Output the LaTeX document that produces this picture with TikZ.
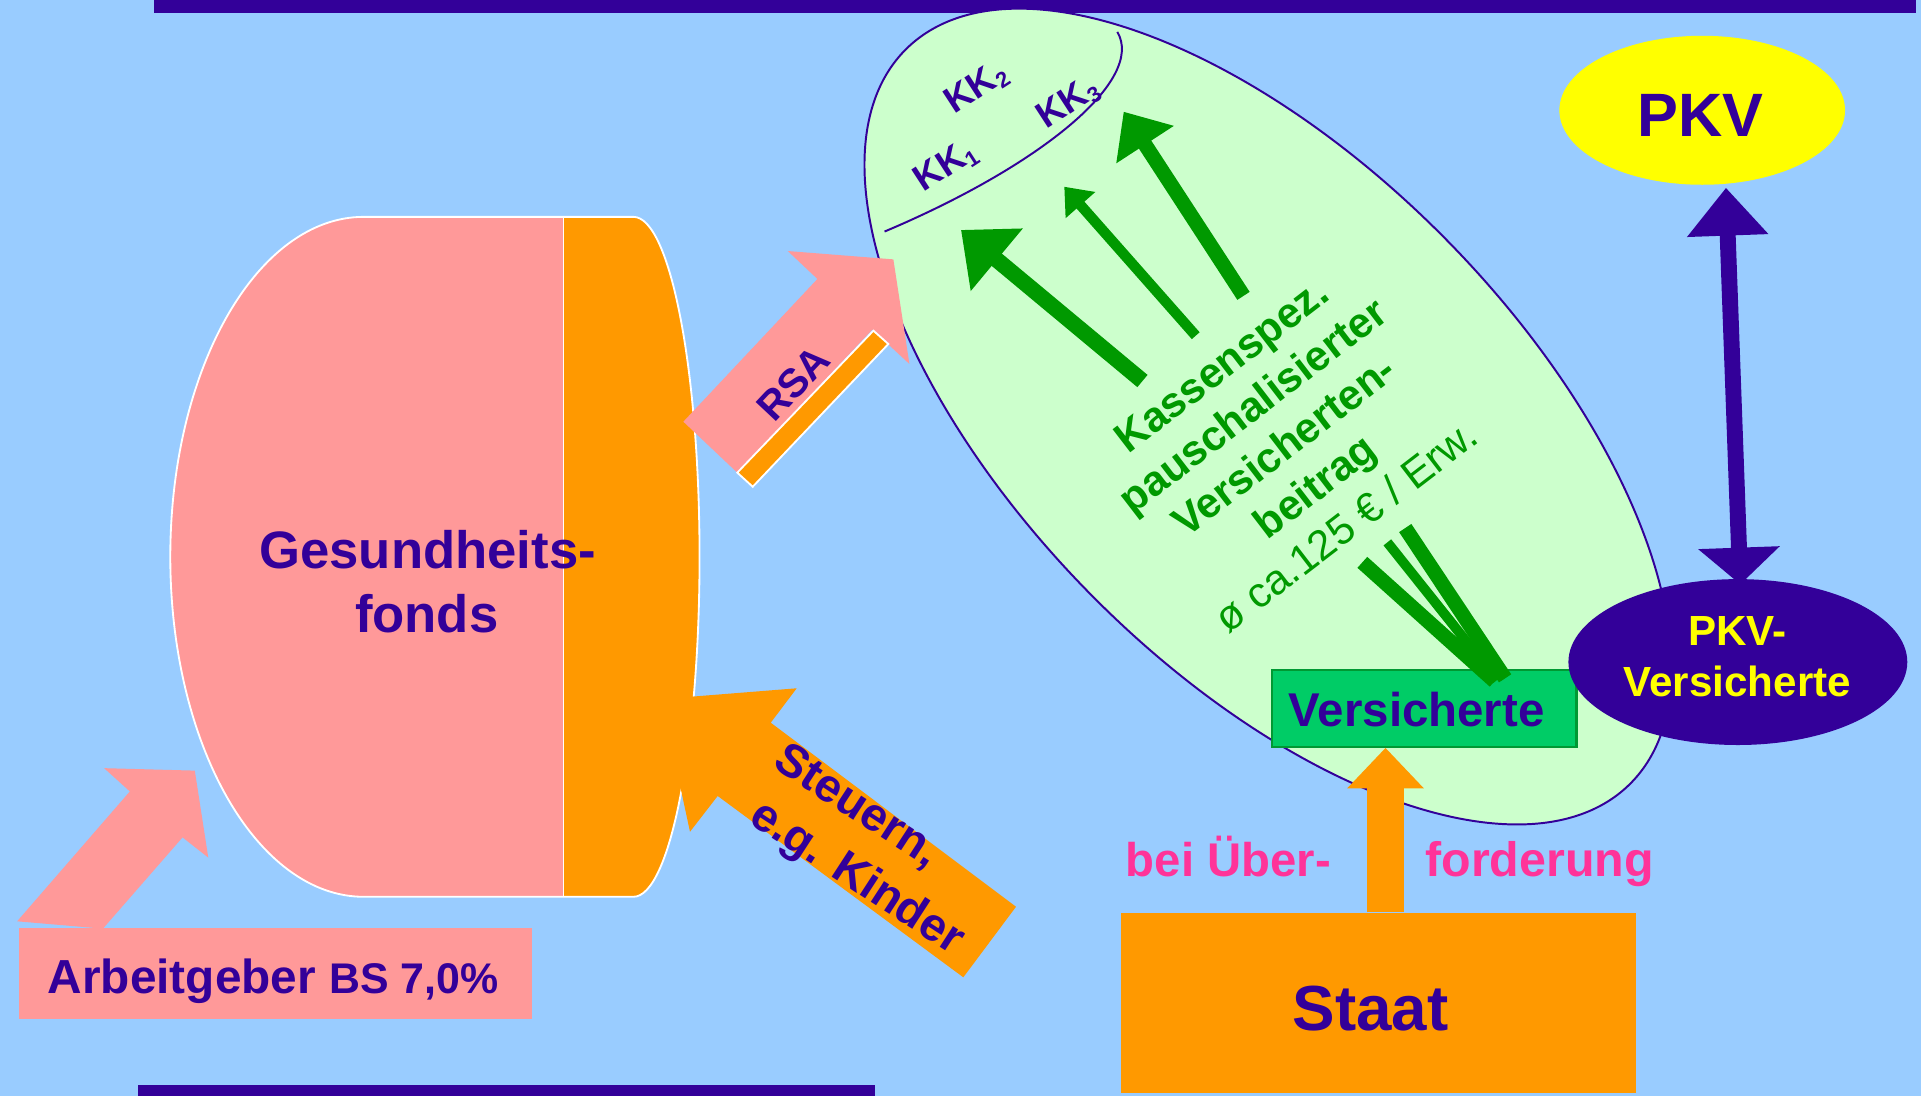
\documentclass[tikz,border=0pt]{standalone}
\usepackage{fontspec}
\setmainfont{Liberation Sans}
\usetikzlibrary{shapes.geometric,arrows.meta}
\definecolor{bgblue}{HTML}{99CCFF}
\definecolor{kpurple}{HTML}{330099}
\definecolor{kpink}{HTML}{FF9999}
\definecolor{korange}{HTML}{FF9900}
\definecolor{lgreen}{HTML}{CCFFCC}
\definecolor{kgreen}{HTML}{009900}
\definecolor{vgreen}{HTML}{00CC66}
\definecolor{vborder}{HTML}{009933}
\definecolor{kyellow}{HTML}{FFFF00}
\definecolor{kmagenta}{HTML}{FF3399}
\tikzset{
  txt/.style={inner sep=0pt, outer sep=0pt},
  ptxt/.style={txt, text=kpurple},
  garrow/.style={draw=kgreen, line cap=butt},
  fanline/.style={draw=kgreen, line cap=butt},
  fundout/.style={draw=white, line width=1.5pt},
  kklabel/.style={ptxt, rotate=33, font={\bfseries\fontsize{30}{30}\selectfont}},
}
\newcommand{\kksub}[1]{\raisebox{-4pt}{\fontsize{18}{18}\selectfont #1}}
\begin{document}
\begin{tikzpicture}[x=1pt,y=-1pt]
\useasboundingbox (0,0) rectangle (1568,894.6);
\fill[bgblue] (0,0) rectangle (1568,894.6);
% bars
\fill[kpurple] (126,0) rectangle (1564,10.8);
\fill[kpurple] (113,885.6) rectangle (714,894.6);

% big ellipse (Krankenkassen)
\node[ellipse, draw=kpurple, fill=lgreen, line width=1.6pt, minimum width=842pt, minimum height=410pt, rotate=-45.5, inner sep=0pt] (kassen) at (1035,340) {};
\draw[kpurple, line width=1.6pt] (722,189) .. controls (850,135) and (935,65) .. (912,26);
\node[kklabel] (kk1) at (772,136) {KK\kksub{1}};
\node[kklabel] (kk2) at (797,72) {KK\kksub{2}};
\node[kklabel] (kk3) at (871.9,84.3) {KK\kksub{3}};

% green arrows to KK
\coordinate (ga1) at (932.5,311); \coordinate (gt1) at (784.4,187.7);
\coordinate (ga2) at (976,274);   \coordinate (gt2) at (868.7,152.4);
\coordinate (ga3) at (1015,241.5);\coordinate (gt3) at (917.2,91.2);
\draw[garrow, line width=13pt, -{Triangle[width=64pt,length=38pt]}] (ga1) -- (gt1);
\draw[garrow, line width=8.5pt, -{Triangle[width=31pt,length=20pt]}] (ga2) -- (gt2);
\draw[garrow, line width=12pt, -{Triangle[width=54pt,length=32pt]}] (ga3) -- (gt3);

% green text
\node[txt, text=kgreen, rotate=37.5, align=center, font={\fontsize{34.5}{41.6}\selectfont}] (beitrag) at (1048,364)
  {\textbf{Kassenspez.}\\\textbf{pauschalisierter}\\\textbf{Versicherten-}\\\textbf{beitrag}\\ø ca.125 € / Erw.};

% Versicherte box
\node[draw=vborder, fill=vgreen, line width=1.8pt, minimum width=248.4pt, minimum height=62.6pt, inner sep=0pt] (vers) at (1162.6,578.2) {};
\node[ptxt, anchor=base, font={\bfseries\fontsize{38.7}{40}\selectfont}] (verstxt) at (1156.4,593.2) {Versicherte};

% fan lines
\coordinate (fa1) at (1112,459);   \coordinate (fe1) at (1220,556);
\coordinate (fa2) at (1132.4,442.7); \coordinate (fe2) at (1222,555);
\coordinate (fa3) at (1147,431);   \coordinate (fe3) at (1228.5,553.7);
\draw[fanline, line width=12pt] (fa1) -- (fe1);
\draw[fanline, line width=8pt] (fa2) -- (fe2);
\draw[fanline, line width=12pt] (fa3) -- (fe3);

% Staat
\node[fill=korange, minimum width=420pt, minimum height=147pt, inner sep=0pt] (staat) at (1125,818.5) {};
\node[ptxt, anchor=base, font={\bfseries\fontsize{52}{56}\selectfont}] (staattxt) at (1118.8,840.8) {Staat};
\draw[korange, line width=30.6pt, -{Triangle[width=60.4pt,length=33pt]}] (staat.north -| 1130.9,0) -- (vers.south -| 1130.9,0);
\node[txt, anchor=base west, text=kmagenta, font={\bfseries\fontsize{38.6}{40}\selectfont}] (bei) at (919,715.6) {bei Über-};
\node[txt, anchor=base west, text=kmagenta, font={\bfseries\fontsize{39.5}{40}\selectfont}] (ford) at (1163.4,715.6) {forderung};

% PKV
\node[ellipse, fill=kyellow, minimum width=233.2pt, minimum height=121.6pt, inner sep=0pt] (pkv) at (1389.4,90) {};
\node[ptxt, anchor=base, font={\bfseries\fontsize{50}{54}\selectfont}] (pkvtxt) at (1387.7,111.6) {PKV};
\coordinate (pa) at (1408.8,153.3); \coordinate (pb) at (1420.5,477);
\draw[kpurple, line width=13pt, {Triangle[width=64pt,length=39pt]}-{Triangle[width=65pt,length=30pt]}] (pa) -- (pb);
\node[ellipse, fill=kpurple, minimum width=276.6pt, minimum height=135.4pt, inner sep=0pt] (pkvv) at (1418.5,540.4) {};
\node[txt, anchor=base, text=kyellow, font={\bfseries\fontsize{34.4}{36}\selectfont}] (pkvv1) at (1418,526.8) {PKV-};
\node[txt, anchor=base, text=kyellow, font={\bfseries\fontsize{34.4}{36}\selectfont}] (pkvv2) at (1418,568.5) {Versicherte};

% Gesundheitsfonds
\fill[kpink] (460,177) -- (297,177) arc[start angle=90, end angle=270, x radius=158pt, y radius=277.5pt] -- (460,732) -- cycle;
\fill[korange] (460,177) -- (517,177) arc[start angle=90, end angle=-90, x radius=54pt, y radius=277.5pt] -- (460,732) -- cycle;
\draw[fundout] (297,177) -- (517,177) arc[start angle=90, end angle=-90, x radius=54pt, y radius=277.5pt] -- (297,732) arc[start angle=270, end angle=90, x radius=158pt, y radius=277.5pt] -- cycle;
\draw[fundout] (460,177) -- (460,732);
\node[ptxt, anchor=base, font={\bfseries\fontsize{43}{52}\selectfont}] (fonds1) at (349,464) {Gesundheits-};
\node[ptxt, anchor=base, font={\bfseries\fontsize{43}{52}\selectfont}] (fonds2) at (348.3,516) {fonds};

% RSA arrow
\fill[kpink] (557.8,344.2) -- (667.2,227.7) -- (643,204.9) -- (729.2,211.7) -- (742.3,297.1) -- (712,269) -- (602,386) -- cycle;
\filldraw[fill=korange, draw=white, line width=1.5pt] (712.9,269.9) -- (725.1,280.8) -- (614.4,397.3) -- (601.8,385.8) -- cycle;
\node[ptxt, rotate=46.8, font={\bfseries\fontsize{33}{36}\selectfont}] (rsa) at (647.6,312.9) {RSA};

% Steuern arrow
\fill[korange] (539.9,570.6) -- (650.3,561.8) -- (629.1,589.9) -- (829.3,740.1) -- (786.3,797.7) -- (585.8,649.7) -- (563.2,678.9) -- cycle;
\node[ptxt, anchor=base west, rotate=-33, font={\bfseries\fontsize{38}{44}\selectfont}] (steuer1) at (630,626) {Steuern,};
\node[ptxt, anchor=base west, rotate=-33, font={\bfseries\fontsize{38}{44}\selectfont}] (steuer2) at (610,671) {e.g. Kinder};

% Arbeitgeber
\fill[kpink] (14,752) -- (106,646) -- (85,627) -- (159,629) -- (170,700) -- (149,683.5) -- (84,758) -- cycle;
\node[fill=kpink, minimum width=418.6pt, minimum height=74pt, inner sep=0pt] (ag) at (224.9,794.8) {};
\node[ptxt, anchor=base west] (agtxt) at (39,810.8) {\bfseries\fontsize{39}{40}\selectfont Arbeitgeber \fontsize{35}{40}\selectfont BS 7,0\%};
\end{tikzpicture}
\end{document}
